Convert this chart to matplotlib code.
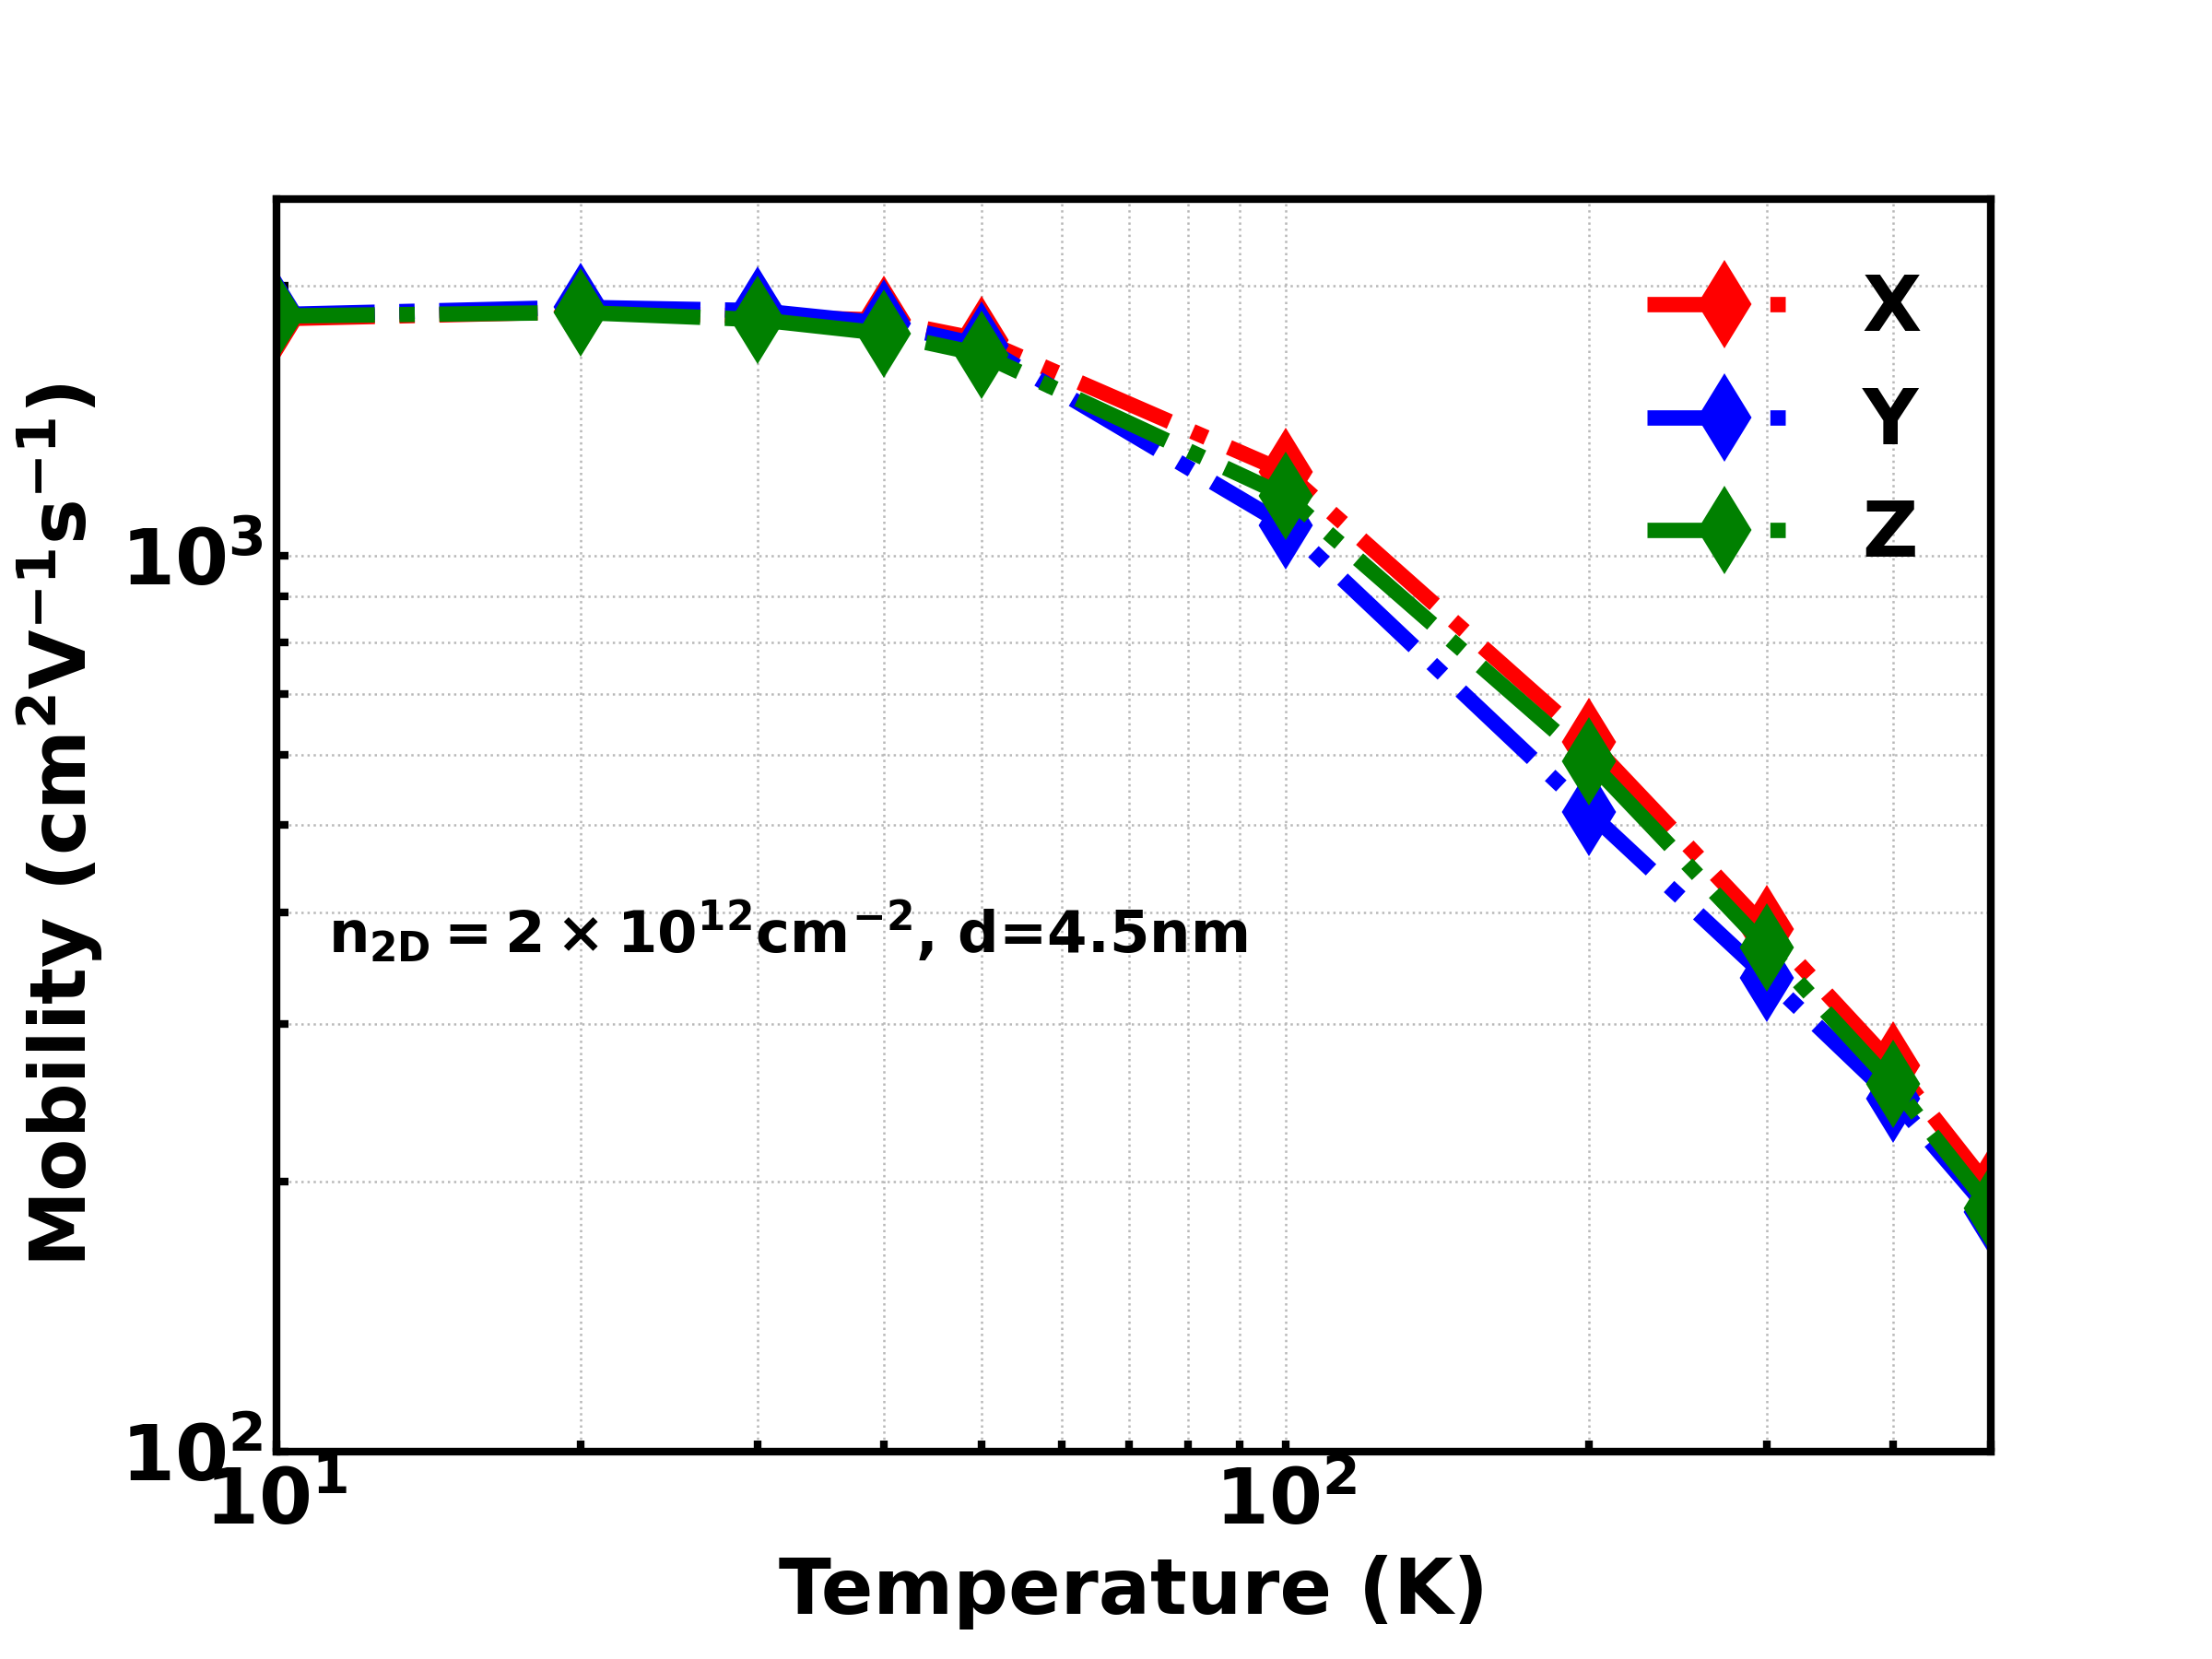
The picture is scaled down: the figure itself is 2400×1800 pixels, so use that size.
import matplotlib
matplotlib.use('Agg')
import matplotlib.pyplot as plt

plt.rcParams['font.family'] = ['DejaVu Sans']
plt.rcParams['font.weight'] = 'bold'
plt.rcParams['axes.labelweight'] = 'bold'
plt.rcParams['mathtext.fontset'] = 'custom'
plt.rcParams['mathtext.rm'] = 'DejaVu Sans:bold'
plt.rcParams['mathtext.it'] = 'DejaVu Sans:bold'
plt.rcParams['mathtext.bf'] = 'DejaVu Sans:bold'

# temperature (K)
T = [10, 20, 30, 40, 50, 100, 200, 300, 400, 500]
# mobility along each direction
mu_x = [1838, 1872, 1850, 1831, 1741, 1240, 620, 383, 270, 196]
mu_y = [1858, 1893, 1877, 1816, 1716, 1081, 517, 338, 248, 185]
mu_z = [1851, 1868, 1834, 1770, 1677, 1166, 590, 365, 257, 187]

fig = plt.figure(figsize=(8, 6), dpi=300)
ax = fig.add_axes([0.125, 0.125, 0.775, 0.755])

ax.plot(T, mu_x, '-.', color='red', lw=4, marker='d', ms=15, label='X')
ax.plot(T, mu_y, '-.', color='blue', lw=4, marker='d', ms=15, label='Y')
ax.plot(T, mu_z, '-.', color='green', lw=4, marker='d', ms=15, label='Z')

ax.set_xscale('log')
ax.set_yscale('log')
ax.set_xlim(10, 500)
ax.set_ylim(100, 2500)

ax.grid(True, which='both', ls=':', lw=0.6, color='#b8b8b8')
ax.tick_params(which='both', direction='in', width=2, length=3, labelsize=20)
for s in ax.spines.values():
    s.set_linewidth(2)

ax.set_xlabel('Temperature (K)', fontsize=20, fontweight='bold')
ax.set_ylabel(r'Mobility (cm$^2$V$^{-1}$s$^{-1}$)', fontsize=20, fontweight='bold')

ax.text(0.030, 0.415, r'$n_{2D}=2\times10^{12}cm^{-2}$, d=4.5nm',
        transform=ax.transAxes, fontsize=15, fontweight='bold', va='center')

ax.legend(loc='upper right', frameon=False, fontsize=20, bbox_to_anchor=(1.0, 0.997))

fig.savefig('out.png', dpi=300)
